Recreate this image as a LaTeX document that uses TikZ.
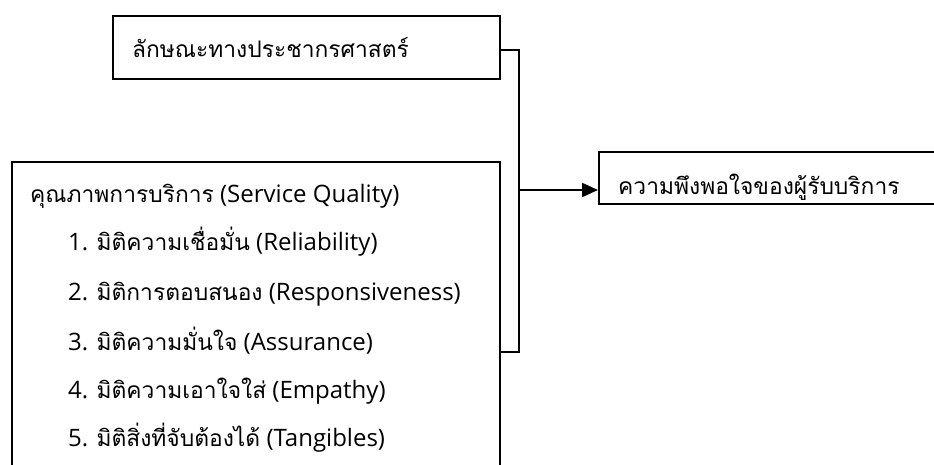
\documentclass[tikz,border=0pt]{standalone}
\usepackage{fontspec}
\setmainfont{Open Sans}
\newfontfamily\thaifont[Script=Thai,Scale=0.95]{Loma}
\newcommand{\thx}[1]{{\thaifont #1}}
\usetikzlibrary{arrows.meta}
\tikzset{
  box/.style={draw, line width=1.6pt, inner sep=0pt, anchor=north west},
  txt/.style={anchor=base west, inner sep=0pt, font=\fontsize{24}{28}\selectfont},
  bracket/.style={line width=2pt},
}
\begin{document}
\begin{tikzpicture}[x=1pt,y=-1pt]
\useasboundingbox (0,0) rectangle (934,465);
% boxes
\node[box, minimum width=387pt, minimum height=63pt] (demo) at (112,15) {};
\node[box, minimum width=488pt, minimum height=320pt] (sq) at (11,161) {};
\node[box, minimum width=350pt, minimum height=52pt] (sat) at (598,151) {};
% texts
\node[txt] (tdemo) at (132,58) {\thx{ลักษณะทางประชากรศาสตร์}};
\node[txt] (tsat) at (618,195) {\thx{ความพึงพอใจของผู้รับบริการ}};
\node[txt] (l0) at (30,203) {\thx{คุณภาพการบริการ} (Service Quality)};
\node[txt] (l1) at (68,251) {1. \thx{มิติความเชื่อมั่น} (Reliability)};
\node[txt] (l2) at (68,300) {2. \thx{มิติการตอบสนอง} (Responsiveness)};
\node[txt] (l3) at (68,350) {3. \thx{มิติความมั่นใจ} (Assurance)};
\node[txt] (l4) at (68,398) {4. \thx{มิติความเอาใจใส่} (Empathy)};
\node[txt] (l5) at (68,446) {5. \thx{มิติสิ่งที่จับต้องได้} (Tangibles)};
% bracket
\coordinate (bt) at (519,50);
\coordinate (bb) at (519,352);
\coordinate (bm) at (519,190);
\draw[bracket] (demo.east |- bt) -- (bt) -- (bb) -- (sq.east |- bb);
\draw[bracket, -{Triangle[length=16pt,width=14pt]}] (bm) -- (sat.west |- bm);
\end{tikzpicture}
\end{document}
